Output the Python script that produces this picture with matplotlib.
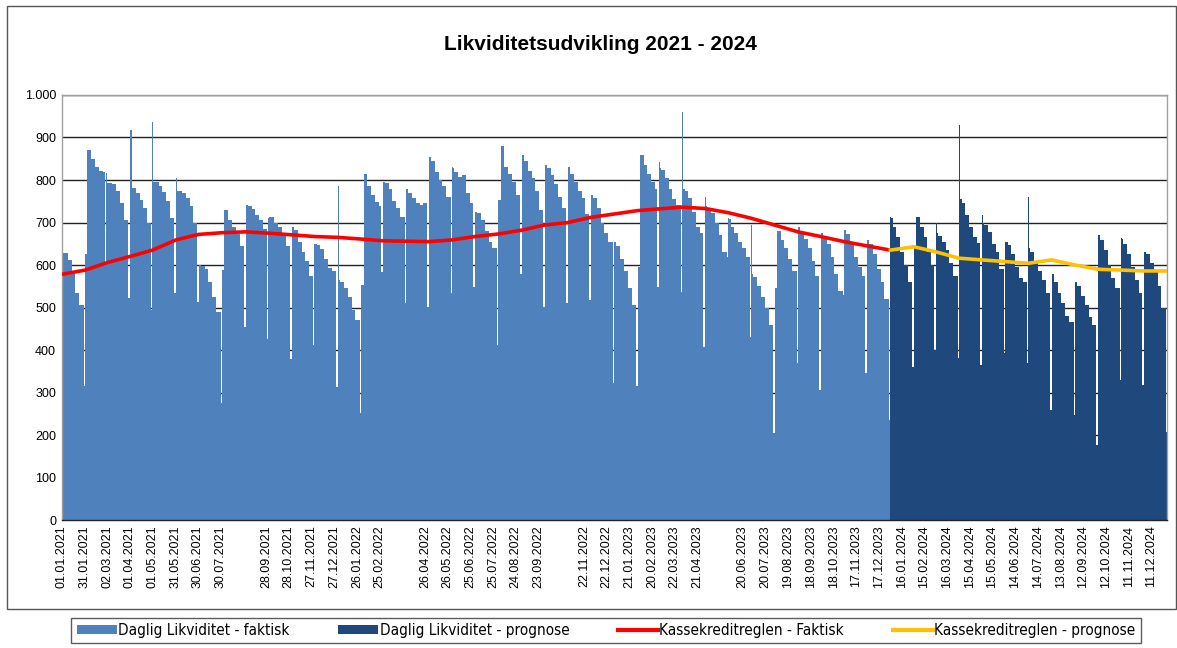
import numpy as np
import pandas as pd
import matplotlib
matplotlib.use("Agg")
import matplotlib.pyplot as plt
from matplotlib.patches import Patch, Rectangle
from matplotlib.lines import Line2D
from matplotlib import font_manager as fm

# ---------------- data ----------------
# Each month: [day 1, days 2-3, days 4-8, days 9-13, days 14-18, days 19-23, days 24..end-2, last 2 days]
liq_2021 = [
    [357, 628, 628, 612, 580, 535, 505, 315],
    [627, 627, 870, 850, 830, 822, 818, 605],
    [817, 794, 794, 790, 775, 745, 705, 522],
    [918, 918, 782, 770, 752, 735, 700, 494],
    [937, 796, 796, 785, 772, 750, 710, 533],
    [804, 773, 773, 770, 758, 738, 700, 514],
    [600, 600, 598, 590, 560, 525, 490, 275],
    [588, 588, 730, 705, 690, 672, 645, 455],
    [741, 741, 740, 732, 718, 705, 685, 427],
    [710, 712, 712, 700, 690, 675, 645, 380],
    [690, 690, 682, 655, 630, 610, 575, 412],
    [649, 649, 648, 638, 615, 592, 585, 314],
]
liq_2022 = [
    [787, 565, 560, 545, 525, 495, 470, 251],
    [553, 553, 815, 785, 765, 748, 740, 584],
    [831, 796, 793, 780, 750, 735, 712, 510],
    [779, 779, 770, 758, 745, 742, 745, 502],
    [853, 853, 845, 820, 800, 785, 760, 533],
    [831, 828, 818, 808, 812, 770, 745, 549],
    [725, 725, 722, 705, 680, 655, 640, 412],
    [753, 753, 880, 830, 815, 795, 765, 580],
    [859, 859, 845, 822, 805, 775, 730, 502],
    [835, 835, 828, 812, 790, 760, 735, 510],
    [831, 831, 815, 795, 775, 758, 720, 518],
    [765, 765, 758, 735, 700, 675, 655, 322],
]
liq_2023 = [
    [655, 655, 645, 615, 585, 545, 505, 315],
    [596, 596, 860, 835, 815, 795, 780, 549],
    [843, 828, 824, 805, 780, 755, 742, 537],
    [961, 780, 775, 758, 725, 690, 675, 408],
    [761, 738, 735, 722, 700, 670, 630, 620],
    [710, 708, 690, 675, 655, 640, 620, 431],
    [694, 580, 572, 550, 525, 500, 460, 204],
    [545, 545, 680, 660, 640, 615, 585, 369],
    [690, 690, 680, 662, 640, 610, 575, 306],
    [678, 676, 668, 650, 620, 580, 540, 530],
    [682, 682, 672, 650, 620, 595, 575, 345],
    [659, 659, 650, 625, 590, 560, 520, 235],
]
liq_2024_prognose = [
    [712, 710, 690, 665, 630, 600, 560, 361],
    [640, 640, 712, 690, 665, 630, 600, 400],
    [700, 675, 668, 655, 635, 605, 575, 382],
    [929, 755, 745, 718, 690, 665, 652, 365],
    [718, 700, 695, 678, 650, 630, 590, 392],
    [655, 655, 648, 625, 595, 570, 560, 369],
    [761, 640, 630, 610, 585, 565, 535, 259],
    [604, 580, 560, 535, 510, 480, 465, 247],
    [561, 561, 550, 528, 505, 478, 460, 176],
    [673, 670, 660, 635, 600, 570, 545, 329],
    [664, 662, 650, 625, 595, 565, 535, 318],
    [631, 630, 625, 605, 585, 550, 500, 208],
]

# Kassekreditreglen, value at each month start (+ value at end of period)
kk_faktisk = [578, 588, 605, 620, 635, 659, 672, 676, 678, 675, 671, 667,
              665, 661, 657, 656, 655, 659, 667, 673, 682, 694, 700, 712,
              720, 728, 732, 736, 733, 723, 710, 694, 678, 667, 655, 645,
              635]
kk_prognose = [635, 643, 631, 616, 612, 608, 604, 612, 600, 590, 588, 586, 586]

tick_labels = ["01.01.2021", "31.01.2021", "02.03.2021", "01.04.2021", "01.05.2021",
               "31.05.2021", "30.06.2021", "30.07.2021", "", "28.09.2021",
               "28.10.2021", "27.11.2021", "27.12.2021", "26.01.2022", "25.02.2022",
               "", "26.04.2022", "26.05.2022", "25.06.2022", "25.07.2022",
               "24.08.2022", "23.09.2022", "", "22.11.2022", "22.12.2022",
               "21.01.2023", "20.02.2023", "22.03.2023", "21.04.2023", "",
               "20.06.2023", "20.07.2023", "19.08.2023", "18.09.2023", "18.10.2023",
               "17.11.2023", "17.12.2023", "16.01.2024", "15.02.2024", "16.03.2024",
               "15.04.2024", "15.05.2024", "14.06.2024", "14.07.2024", "13.08.2024",
               "12.09.2024", "12.10.2024", "11.11.2024", "11.12.2024"]

title = "Likviditetsudvikling 2021 - 2024"
legend_labels = ["Daglig Likviditet - faktisk", "Daglig Likviditet - prognose",
                 "Kassekreditreglen - Faktisk", "Kassekreditreglen - prognose"]

# ---------------- helpers ----------------
BASE = pd.Timestamp("2021-01-01")


def month_steps(year, months):
    edges, vals = [], []
    last_end = 0
    for m, seg in enumerate(months, start=1):
        start = pd.Timestamp(year=year, month=m, day=1)
        off = (start - BASE).days
        n = start.days_in_month
        bounds = [0, 1, 3, 8, 13, 18, 23, n - 2]
        for b, v in zip(bounds, seg):
            edges.append(off + b)
            vals.append(v)
        last_end = off + n
    edges.append(last_end)
    return np.array(edges), np.array(vals)


def month_starts(years):
    xs = []
    for y in years:
        for m in range(1, 13):
            xs.append((pd.Timestamp(year=y, month=m, day=1) - BASE).days)
    xs.append((pd.Timestamp(year=years[-1] + 1, month=1, day=1) - BASE).days)
    return np.array(xs)


e_f, v_f = [], []
for yr, data in [(2021, liq_2021), (2022, liq_2022), (2023, liq_2023)]:
    e, v = month_steps(yr, data)
    e_f.append(e[:-1]); v_f.append(v)
e_end = month_steps(2023, liq_2023)[0][-1]
edges_f = np.concatenate(e_f + [np.array([e_end])])
vals_f = np.concatenate(v_f)
edges_p, vals_p = month_steps(2024, liq_2024_prognose)

x_kf = month_starts([2021, 2022, 2023])
x_kp = month_starts([2024])

# ---------------- fonts ----------------
plt.rcParams['font.family'] = ['Liberation Sans', 'DejaVu Sans']


def narrow_prop(size):
    for fam in ['Liberation Sans Narrow', 'Arial Narrow']:
        try:
            fm.findfont(fm.FontProperties(family=fam), fallback_to_default=False)
            return fm.FontProperties(family=fam, size=size)
        except Exception:
            pass
    for f in fm.fontManager.ttflist:
        if ('DejaVu Sans' in f.name and f.stretch == 'condensed'
                and f.style == 'normal' and f.weight in (400, 'normal', 'regular', 'book')
                and 'Oblique' not in f.fname and 'Bold' not in f.fname):
            return fm.FontProperties(fname=f.fname, size=size)
    return fm.FontProperties(family='Liberation Sans', size=size - 1)


C_F = "#4F81BD"
C_P = "#1F497D"
C_R = "#FF0000"
C_Y = "#FFC000"

fig = plt.figure(figsize=(11.77, 6.48), dpi=100)
ax = fig.add_axes([0.0524, 0.1975, 0.9394, 0.6559])

ax.stairs(vals_f, edges_f, fill=True, color=C_F, baseline=0, zorder=2, linewidth=0)
ax.stairs(vals_p, edges_p, fill=True, color=C_P, baseline=0, zorder=2, linewidth=0)
ax.plot(x_kf, kk_faktisk, color=C_R, lw=2.6, zorder=3, solid_joinstyle='round')
ax.plot(x_kp, kk_prognose, color=C_Y, lw=2.6, zorder=3, solid_joinstyle='round')

ax.set_xlim(0, 1461)
ax.set_ylim(0, 1000)
ax.set_yticks(np.arange(0, 1001, 100))
ax.set_yticklabels([f"{int(t):,}".replace(",", ".") for t in np.arange(0, 1001, 100)],
                   fontsize=9)
ax.set_xticks(np.arange(len(tick_labels)) * 30)
ax.set_xticklabels(tick_labels, rotation=90, fontsize=9)
ax.tick_params(axis='both', length=0, pad=4)
ax.yaxis.grid(True, color="#222222", lw=1.0, zorder=0)
ax.set_axisbelow(True)
for s in ["top", "right", "left"]:
    ax.spines[s].set_color("#A0A0A0")
    ax.spines[s].set_linewidth(1.0)
ax.spines["bottom"].set_color("#222222")
ax.spines["bottom"].set_linewidth(1.0)

fig.text(0.51, 0.932, title, ha="center", va="center", fontsize=15, fontweight="bold")

handles = [Patch(facecolor=C_F, edgecolor="none"), Patch(facecolor=C_P, edgecolor="none"),
           Line2D([0], [0], color=C_R, lw=3), Line2D([0], [0], color=C_Y, lw=3)]
leg = fig.legend(handles, legend_labels, loc="center", ncol=4,
                 bbox_to_anchor=(0.515, 0.027), frameon=True, fancybox=False,
                 prop=narrow_prop(11),
                 handlelength=2.6, handleheight=0.6, handletextpad=0.1,
                 columnspacing=3.2, borderpad=0.35)
leg.get_frame().set_edgecolor("#333333")
leg.get_frame().set_linewidth(1.0)

fig.patches.append(Rectangle((0.006, 0.06), 0.993, 0.93, transform=fig.transFigure,
                             fill=False, edgecolor="#555555", lw=1.0))

fig.savefig("out.png", dpi=100)
